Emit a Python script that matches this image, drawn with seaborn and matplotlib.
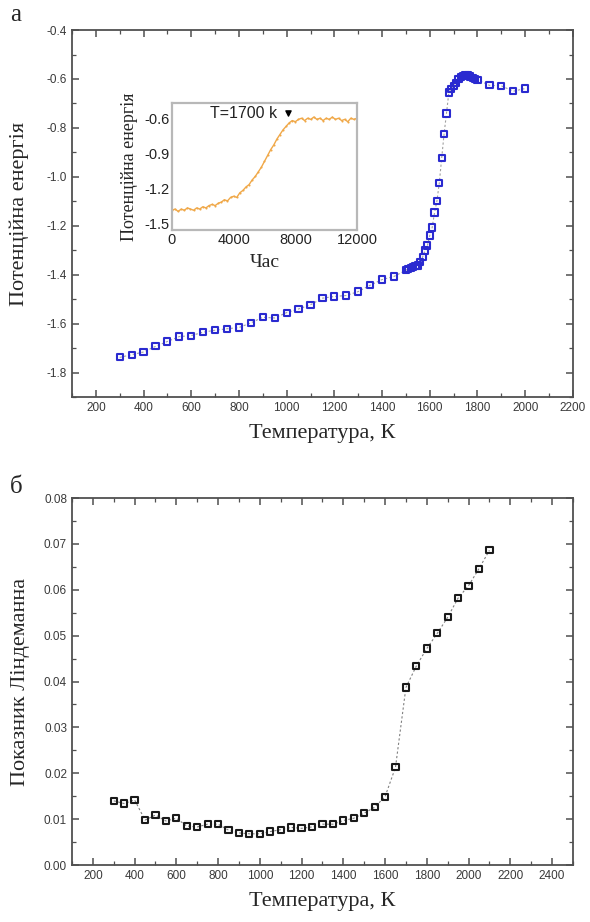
import numpy as np
import pandas as pd
import matplotlib
matplotlib.use("Agg")
import matplotlib.pyplot as plt
from matplotlib.ticker import MultipleLocator, FormatStrFormatter
import seaborn as sns

# Potential energy vs temperature (panel a)
temp_a = [300, 350, 400, 450, 500, 550, 600, 650, 700, 750, 800, 850, 900, 950,
          1000, 1050, 1100, 1150, 1200, 1250, 1300, 1350, 1400, 1450,
          1500, 1510, 1520, 1530, 1540, 1550, 1560, 1570, 1580, 1590,
          1600, 1610, 1620, 1630, 1640, 1650, 1660, 1670, 1680, 1690,
          1700, 1710, 1720, 1730, 1740, 1750, 1760, 1770, 1780, 1790,
          1800, 1850, 1900, 1950, 2000]
energy_a = [-1.738, -1.727, -1.716, -1.693, -1.673, -1.653, -1.649, -1.635, -1.627, -1.621,
            -1.616, -1.597, -1.574, -1.577, -1.555, -1.540, -1.523, -1.496, -1.489, -1.485,
            -1.469, -1.443, -1.420, -1.407, -1.382, -1.376, -1.372, -1.369, -1.366, -1.362,
            -1.349, -1.328, -1.301, -1.281, -1.240, -1.207, -1.146, -1.099, -1.024, -0.923,
            -0.824, -0.741, -0.655, -0.640, -0.628, -0.615, -0.601, -0.592, -0.588, -0.583,
            -0.585, -0.590, -0.596, -0.600, -0.603, -0.626, -0.628, -0.650, -0.639]

# Inset: potential energy vs time at T = 1700 K
time_in = [0, 200, 400, 600, 800, 1000, 1200, 1400, 1600, 1800,
           2000, 2200, 2400, 2600, 2800, 3000, 3200, 3400, 3600, 3800,
           4000, 4200, 4400, 4600, 4800, 5000, 5200, 5400, 5600, 5800,
           6000, 6200, 6400, 6600, 6800, 7000, 7200, 7400, 7600, 7800,
           8000, 8200, 8400, 8600, 8800, 9000, 9200, 9400, 9600, 9800,
           10000, 10200, 10400, 10600, 10800, 11000, 11200, 11400, 11600, 11800, 12000]
energy_in = [-1.39, -1.38, -1.40, -1.38, -1.39, -1.37, -1.38, -1.39, -1.37, -1.38,
             -1.36, -1.37, -1.35, -1.34, -1.35, -1.33, -1.32, -1.30, -1.31, -1.28,
             -1.27, -1.28, -1.24, -1.22, -1.19, -1.17, -1.13, -1.10, -1.06, -1.02,
             -0.97, -0.92, -0.87, -0.83, -0.78, -0.74, -0.70, -0.67, -0.64, -0.62,
             -0.63, -0.61, -0.60, -0.62, -0.60, -0.61, -0.59, -0.61, -0.60, -0.62,
             -0.60, -0.61, -0.59, -0.61, -0.60, -0.62, -0.61, -0.63, -0.60, -0.61, -0.60]
melt_time = [7500]
melt_energy = [-0.557]

# Lindemann index vs temperature (panel b)
temp_b = [300, 350, 400, 450, 500, 550, 600, 650, 700, 750, 800, 850, 900, 950,
          1000, 1050, 1100, 1150, 1200, 1250, 1300, 1350, 1400, 1450, 1500, 1550,
          1600, 1650, 1700, 1750, 1800, 1850, 1900, 1950, 2000, 2050, 2100]
lindemann_b = [0.0140, 0.0134, 0.0142, 0.0098, 0.0109, 0.0096, 0.0102, 0.0085, 0.0083, 0.0089,
               0.0089, 0.0076, 0.0070, 0.0068, 0.0068, 0.0073, 0.0077, 0.0082, 0.0080, 0.0083,
               0.0089, 0.0089, 0.0097, 0.0102, 0.0113, 0.0126, 0.0149, 0.0213, 0.0387, 0.0434,
               0.0472, 0.0505, 0.0540, 0.0582, 0.0609, 0.0646, 0.0686]

df_a = pd.DataFrame({"T": temp_a, "E": energy_a})
df_in = pd.DataFrame({"t": time_in, "E": energy_in})
df_b = pd.DataFrame({"T": temp_b, "L": lindemann_b})

sns.set_style("ticks")
plt.rcParams["font.family"] = ["Liberation Sans", "DejaVu Sans"]
plt.rcParams["axes.unicode_minus"] = False

SERIF = ["Liberation Serif", "DejaVu Serif"]
TICK_COLOR = "#3a3a3a"

fig = plt.figure(figsize=(5.9, 9.22), dpi=100)
ax_a = fig.add_axes([0.122, 0.5694, 0.849, 0.398])
ax_b = fig.add_axes([0.122, 0.0618, 0.849, 0.398])


def style_main(ax):
    for s in ax.spines.values():
        s.set_color("#505050")
        s.set_linewidth(1.3)
    ax.tick_params(which="both", direction="in", top=True, right=True,
                   colors="#505050", labelcolor=TICK_COLOR, labelsize=8.5)
    ax.tick_params(which="major", length=5, width=1.1)
    ax.tick_params(which="minor", length=3, width=0.9)


# ---- panel a ----
sns.lineplot(data=df_a, x="T", y="E", ax=ax_a, color="#a0a0a0", lw=0.8,
             linestyle=(0, (2, 2)), zorder=2)
sns.scatterplot(data=df_a, x="T", y="E", ax=ax_a, marker="s", s=20,
                facecolor="none", edgecolor="#2a2ad0", linewidth=1.5, zorder=3)
ax_a.set_xlim(100, 2200)
ax_a.set_ylim(-1.9, -0.4)
ax_a.xaxis.set_major_locator(MultipleLocator(200))
ax_a.xaxis.set_minor_locator(MultipleLocator(100))
ax_a.yaxis.set_major_locator(MultipleLocator(0.2))
ax_a.yaxis.set_minor_locator(MultipleLocator(0.1))
ax_a.yaxis.set_major_formatter(FormatStrFormatter("%.1f"))
style_main(ax_a)
ax_a.set_xlabel("Температура, К", family=SERIF, fontsize=16, labelpad=7)
ax_a.set_ylabel("Потенційна енергія", family=SERIF, fontsize=16, labelpad=13)
fig.text(0.017, 0.984, "а", family=SERIF, fontsize=18, va="center", ha="left")

# ---- inset ----
ax_in = fig.add_axes([0.2915, 0.7505, 0.3136, 0.1377])
sns.lineplot(data=df_in, x="t", y="E", ax=ax_in, color="#f0a848", lw=1.0,
             marker="o", markersize=1.5, markeredgewidth=0)
ax_in.scatter(melt_time, melt_energy, marker="v", s=14, color="black", zorder=4)
ax_in.text(melt_time[0] - 650, melt_energy[0], "T=1700 k", fontsize=11.5,
           ha="right", va="center", color="#222222")
ax_in.set_xlim(0, 12000)
ax_in.set_ylim(-1.56, -0.47)
ax_in.set_xticks([0, 4000, 8000, 12000])
ax_in.set_yticks([-0.6, -0.9, -1.2, -1.5])
ax_in.yaxis.set_major_formatter(FormatStrFormatter("%.1f"))
for s in ax_in.spines.values():
    s.set_color("#b8b8b8")
    s.set_linewidth(1.6)
ax_in.tick_params(length=0, labelsize=10.5, labelcolor="#222222", pad=2)
ax_in.set_xlabel("Час", family=SERIF, fontsize=14, labelpad=5)
ax_in.set_ylabel("Потенційна енергія", family=SERIF, fontsize=13, labelpad=4)

# ---- panel b ----
sns.lineplot(data=df_b, x="T", y="L", ax=ax_b, color="#808080", lw=0.8,
             linestyle=(0, (2, 2)), zorder=2)
sns.scatterplot(data=df_b, x="T", y="L", ax=ax_b, marker="s", s=20,
                facecolor="none", edgecolor="#1a1a1a", linewidth=1.5, zorder=3)
ax_b.set_xlim(100, 2500)
ax_b.set_ylim(0, 0.08)
ax_b.xaxis.set_major_locator(MultipleLocator(200))
ax_b.xaxis.set_minor_locator(MultipleLocator(100))
ax_b.yaxis.set_major_locator(MultipleLocator(0.01))
ax_b.yaxis.set_minor_locator(MultipleLocator(0.005))
ax_b.yaxis.set_major_formatter(FormatStrFormatter("%.2f"))
style_main(ax_b)
ax_b.set_xlabel("Температура, К", family=SERIF, fontsize=16, labelpad=7)
ax_b.set_ylabel("Показник Ліндеманна", family=SERIF, fontsize=16, labelpad=10)
fig.text(0.017, 0.472, "б", family=SERIF, fontsize=18, va="center", ha="left")

fig.savefig("out.png", dpi=100, facecolor="white")
